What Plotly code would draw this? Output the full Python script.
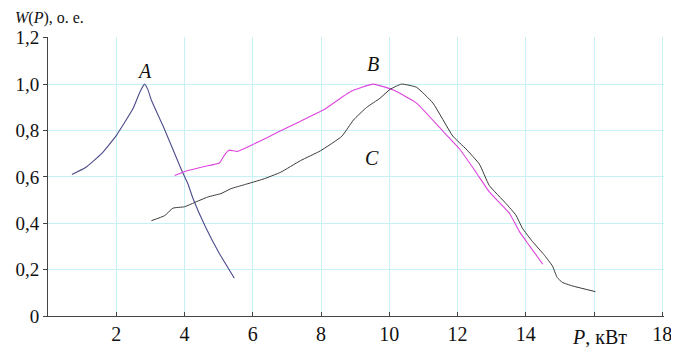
import plotly.graph_objects as go

# Curve A
a_x = [0.7, 1.1, 1.57, 2.01, 2.5, 2.69, 2.83, 2.93, 3.03, 3.37, 3.9, 4.1, 4.24, 4.63, 5.0, 5.46]
a_y = [0.61, 0.64, 0.70, 0.78, 0.897, 0.965, 1.0, 0.975, 0.93, 0.82, 0.634, 0.57, 0.51, 0.379, 0.275, 0.163]

# Curve B
b_x = [3.71, 4.1, 4.58, 5.02, 5.17, 5.3, 5.55, 5.94, 6.43, 6.91, 7.4, 8.08, 8.86, 9.53, 10.12,
       10.8, 11.57, 12.06, 12.54, 12.93, 13.52, 13.81, 14.05, 14.5]
b_y = [0.606, 0.627, 0.645, 0.66, 0.694, 0.715, 0.71, 0.735, 0.77, 0.805, 0.84, 0.889, 0.967, 1.0, 0.974,
       0.918, 0.797, 0.72, 0.62, 0.535, 0.443, 0.365, 0.315, 0.223]

# Curve C
c_x = [3.03, 3.42, 3.66, 4.0, 4.29, 4.68, 5.07, 5.36, 5.75, 6.3, 6.82, 7.4, 7.98, 8.61, 8.95, 9.34,
       9.73, 10.02, 10.36, 10.8, 11.28, 11.86, 12.25, 12.64, 12.93, 13.42, 13.71, 13.9, 14.19, 14.53,
       14.78, 14.92, 15.07, 15.36, 16.04]
c_y = [0.411, 0.433, 0.465, 0.471, 0.489, 0.513, 0.528, 0.549, 0.566, 0.59, 0.62, 0.67, 0.712, 0.775, 0.845, 0.9,
       0.939, 0.977, 1.0, 0.986, 0.918, 0.776, 0.72, 0.655, 0.563, 0.485, 0.435, 0.379, 0.322, 0.265,
       0.216, 0.166, 0.145, 0.13, 0.105]

x_ticks = [0, 2, 4, 6, 8, 10, 12, 14, 16, 18]
x_labels = ["", "2", "4", "6", "8", "10", "12", "14", "", "18"]
y_ticks = [0, 0.2, 0.4, 0.6, 0.8, 1.0, 1.2]
y_labels = ["0", "0,2", "0,4", "0,6", "0,8", "1,0", "1,2"]

curve_labels = [("A", 2.83, 1.0, 13), ("B", 9.53, 1.0, 20), ("C", 9.5, 0.76, -18)]

serif = "Liberation Serif"
fs = 20
fig = go.Figure()
fig.add_trace(go.Scatter(x=a_x, y=a_y, mode="lines", line=dict(color="#4c4c8c", width=1.1, shape="spline", smoothing=0.4)))
fig.add_trace(go.Scatter(x=b_x, y=b_y, mode="lines", line=dict(color="#dd44dd", width=1.1, shape="spline", smoothing=0.4)))
fig.add_trace(go.Scatter(x=c_x, y=c_y, mode="lines", line=dict(color="#3a3a3a", width=1.0, shape="spline", smoothing=0.4)))

for name, lx, ly, dy in curve_labels:
    fig.add_annotation(x=lx, y=ly, text="<i>%s</i>" % name, showarrow=False, yshift=dy,
                       font=dict(family=serif, size=fs, color="#111"))

fig.add_annotation(x=16.17, y=0, yref="y", text="<i>P</i>, кВт", showarrow=False, yshift=-21,
                   font=dict(family=serif, size=fs, color="#111"))
fig.add_annotation(x=0, y=1.0, xref="paper", yref="paper", xanchor="left", yanchor="top",
                   xshift=-34, yshift=29, borderpad=0, text="<i>W</i>(<i>P</i>), о. е.", showarrow=False,
                   font=dict(family=serif, size=16, color="#111"))

# page body has an 8px default margin; figure sized so the plot area lands at x 46..664, y 37..319
fig.update_layout(
    width=671, height=344,
    margin=dict(l=38, r=7, t=29, b=25),
    paper_bgcolor="white", plot_bgcolor="white",
    showlegend=False,
    font=dict(family=serif, size=fs, color="#111"),
)
fig.update_xaxes(range=[0, 18.05], tickvals=x_ticks, ticktext=x_labels, showgrid=True,
                 gridcolor="#c6f2f6", gridwidth=1, zeroline=False, showline=True, linecolor="#444",
                 linewidth=1, ticks="inside", ticklen=4, tickcolor="#444", ticklabeloverflow="allow")
fig.update_yaxes(range=[0, 1.203], tickvals=y_ticks, ticktext=y_labels, showgrid=True,
                 gridcolor="#c6f2f6", gridwidth=1, zeroline=False, showline=True, linecolor="#444",
                 linewidth=1, ticks="outside", ticklen=4, tickcolor="#444", tickfont=dict(size=19))

fig.write_html("out.html")
